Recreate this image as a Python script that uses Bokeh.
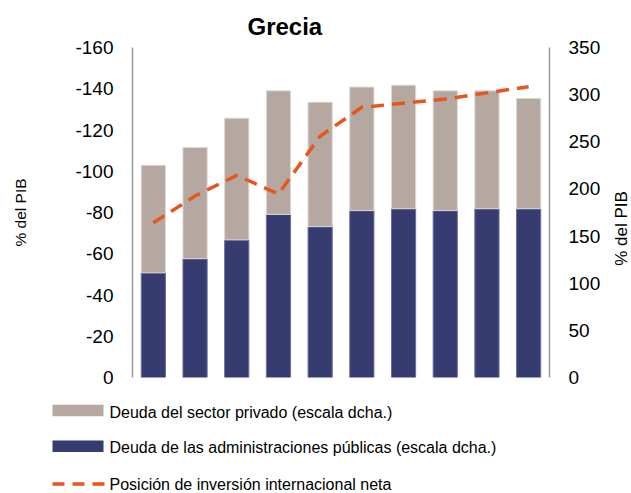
import math
from bokeh.plotting import figure
from bokeh.models import Range1d, LinearAxis, FixedTicker, PrintfTickFormatter
from bokeh.core.properties import value
from bokeh.embed import file_html
from bokeh.resources import INLINE

# ---- data ----
periods = [1, 2, 3, 4, 5, 6, 7, 8, 9, 10]
public_debt = [111, 126, 146, 173, 160, 177, 179, 177, 179, 179]     # right scale
private_debt = [114, 118, 129, 131, 132, 131, 131, 127, 125, 117]    # right scale
niip = [-75, -88, -98, -89, -117, -131, -133, -135, -138, -141]      # left scale
left_ticks = [0, -20, -40, -60, -80, -100, -120, -140, -160]
right_ticks = [0, 50, 100, 150, 200, 250, 300, 350]
labels = ["Deuda del sector privado (escala dcha.)",
          "Deuda de las administraciones públicas (escala dcha.)",
          "Posición de inversión internacional neta"]
axis_title = "% del PIB"

FONT = "Liberation Sans"
TAN = "#B5A8A1"
NAVY = "#363B70"
ORANGE = "#E8561E"

FL, FR, FT, FB = 132, 549, 47, 377          # frame edges in pixels
p = figure(width=631, height=493, output_backend="svg", toolbar_location=None,
           x_range=Range1d(0.5, 10.5), y_range=Range1d(0, -160),
           min_border_left=FL, min_border_right=631 - FR, min_border_top=FT,
           min_border_bottom=493 - FB)
p.extra_y_ranges = {"right": Range1d(0, 350), "py": Range1d(FB, FT)}
p.extra_x_ranges = {"px": Range1d(FL, FR)}
p.outline_line_color = None
p.xgrid.visible = False
p.ygrid.visible = False
p.xaxis.visible = False

p.title.text = "Grecia"
p.title.text_font = FONT
p.title.text_font_size = "24px"
p.title.text_font_style = "bold"
p.title.text_color = "#000000"
p.title.align = "left"
p.title.offset = 115
p.title.standoff = 15

def style_axis(ax):
    ax.major_tick_out = 0
    ax.major_tick_in = 0
    ax.minor_tick_out = 0
    ax.minor_tick_in = 0
    ax.axis_line_color = "#9a9a9a"
    ax.axis_line_width = 1.5
    ax.formatter = PrintfTickFormatter(format="%d")
    ax.major_label_text_font = FONT
    ax.major_label_text_font_size = "19px"
    ax.major_label_text_color = "#000000"
    ax.major_label_standoff = 19
    ax.axis_label_text_font = FONT
    ax.axis_label_text_font_size = "15.5px"
    ax.axis_label_text_font_style = "normal"
    ax.axis_label_text_color = "#000000"

ly = p.yaxis[0]
ly.ticker = FixedTicker(ticks=left_ticks)
ly.axis_label = axis_title
style_axis(ly)
ly.axis_label_standoff = 43

ry = LinearAxis(y_range_name="right", ticker=FixedTicker(ticks=right_ticks))
style_axis(ry)
p.add_layout(ry, "right")

src = dict(x=periods, pub=public_debt, priv=private_debt)
bars = p.vbar_stack(["pub", "priv"], x="x", width=0.58, source=src,
                    y_range_name="right",
                    fill_color=[NAVY, TAN], line_color=["#6c6f9c", "#ddd6d2"],
                    line_width=1)
ln = p.line(periods, niip, line_color=ORANGE, line_width=3.5, line_dash="13 8")

# ---- texts and legend outside the frame (pixel ranges "px"/"py") ----
kw = dict(x_range_name="px", y_range_name="py", level="overlay")
# right-hand axis title
p.text(x=[621], y=[228], text=[axis_title], angle=math.pi / 2,
       text_baseline="middle", text_align="center", text_font=value(FONT),
       text_font_size="17px", text_color="#000000", **kw)
# legend
p.line([52, 103], [410, 410], line_width=11.5, line_color=TAN, line_cap="butt", **kw)
p.line([52, 103], [445.7, 445.7], line_width=11.5, line_color=NAVY, line_cap="butt", **kw)
p.line([52, 104], [483.5, 483.5], line_width=3.5, line_color=ORANGE, line_dash="12 8",
       line_cap="butt", **kw)
p.text(x=[109, 109, 109], y=[411.5, 446.5, 484], text=labels,
       text_baseline="middle", text_align="left", text_font=value(FONT),
       text_font_size="16px", text_color="#000000", **kw)

open("out.html", "w").write(file_html(p, INLINE))
